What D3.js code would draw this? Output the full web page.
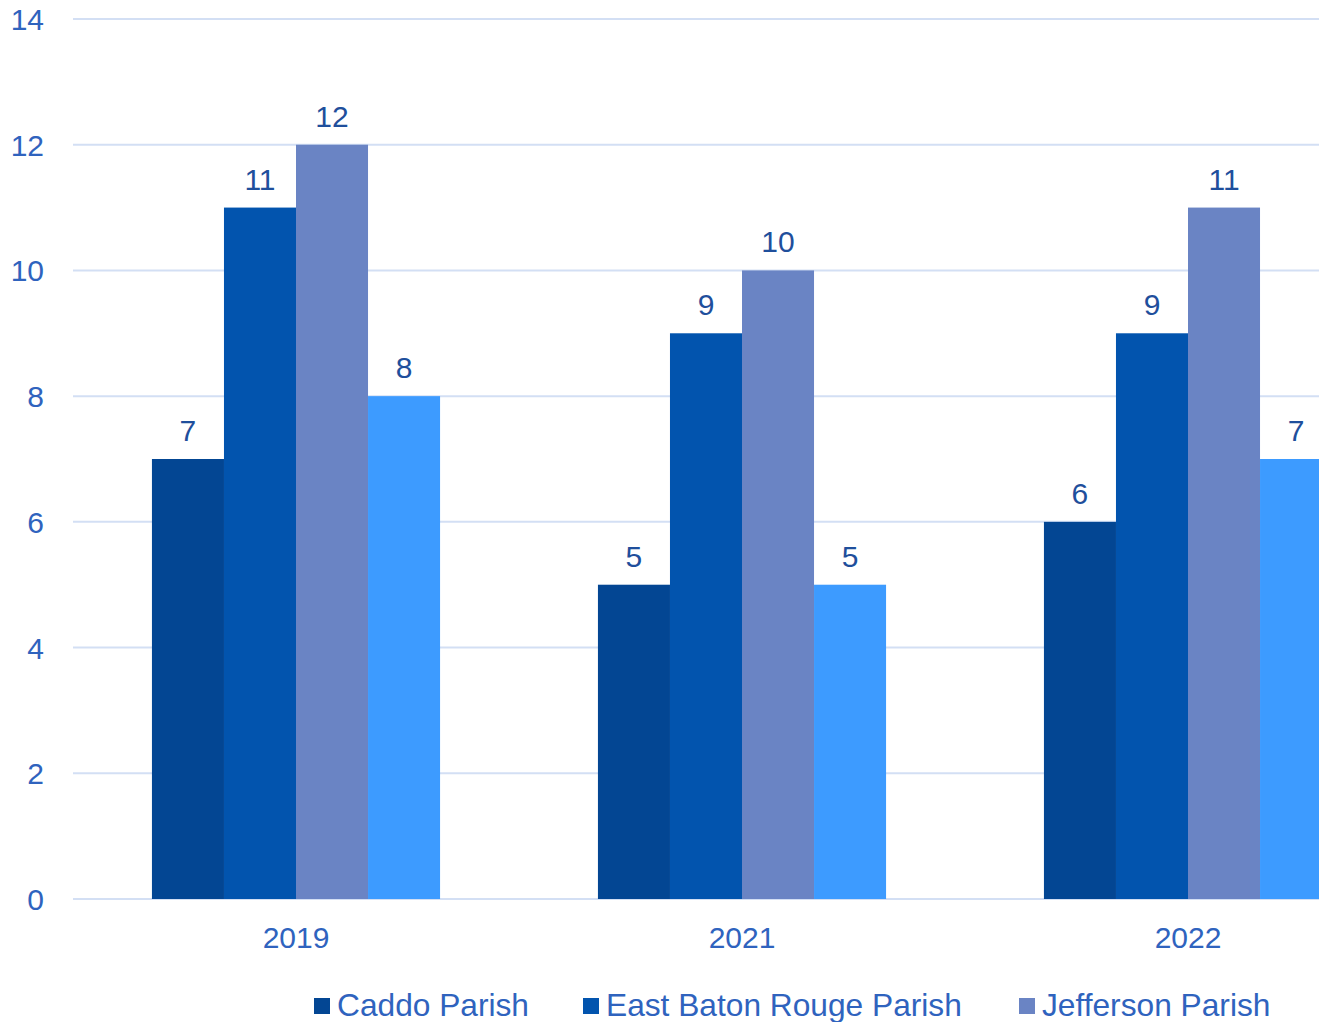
<!DOCTYPE html>
<html><head><meta charset="utf-8">
<script src="https://cdn.jsdelivr.net/npm/d3@7"></script>
<style>html,body{margin:0;padding:0;background:#fff;overflow:hidden}</style>
</head><body>
<svg id="c" width="1319" height="1022"></svg>
<script>
const years = ["2019", "2021", "2022"];
const seriesNames = ["Caddo Parish", "East Baton Rouge Parish", "Jefferson Parish", "Orleans Parish"];
const caddo = [7, 5, 6];
const eastBatonRouge = [11, 9, 9];
const jefferson = [12, 10, 11];
const orleans = [8, 5, 7];
const yTicks = [0, 2, 4, 6, 8, 10, 12, 14];
const colors = ["#034693", "#0254AE", "#6A84C4", "#3D9BFF"];

(function() {
const seriesValues = [caddo, eastBatonRouge, jefferson, orleans];
const svg = d3.select("#c");
const font = "'Liberation Sans', Arial, sans-serif";
const plotLeft = 73, plotRight = 1411, plotTop = 19, plotBottom = 899;

const x = d3.scaleBand().domain(years).range([plotLeft, plotRight]).paddingInner(0.354).paddingOuter(0.177);
const xs = d3.scaleBand().domain(seriesNames).range([0, x.bandwidth()]);
const y = d3.scaleLinear().domain([0, 14]).range([plotBottom, plotTop]);

// gridlines
svg.append("g").selectAll("line").data(yTicks).join("line")
  .attr("x1", plotLeft).attr("x2", 1319)
  .attr("y1", d => y(d)).attr("y2", d => y(d))
  .attr("stroke", "#D3DFF4").attr("stroke-width", 2);

// y tick labels
svg.append("g").selectAll("text").data(yTicks).join("text")
  .attr("x", 44).attr("y", d => y(d) + 11)
  .attr("text-anchor", "end")
  .attr("font-family", font).attr("font-size", 30).attr("fill", "#2F63BE")
  .text(d => d);

// bars
const groups = svg.append("g").selectAll("g").data(years).join("g")
  .attr("transform", d => `translate(${x(d)},0)`);
groups.each(function(yr, i) {
  const g = d3.select(this);
  const data = seriesNames.map((s, k) => ({s, k, v: seriesValues[k][i]}));
  g.selectAll("rect").data(data).join("rect")
    .attr("x", d => xs(d.s)).attr("width", xs.bandwidth())
    .attr("y", d => y(d.v)).attr("height", d => y(0) - y(d.v))
    .attr("fill", d => colors[d.k]);
  g.selectAll("text").data(data).join("text")
    .attr("x", d => xs(d.s) + xs.bandwidth() / 2)
    .attr("y", d => y(d.v) - 18)
    .attr("text-anchor", "middle")
    .attr("font-family", font).attr("font-size", 30).attr("fill", "#1F4F9C")
    .text(d => d.v);
});

// x labels
svg.append("g").selectAll("text").data(years).join("text")
  .attr("x", d => x(d) + x.bandwidth() / 2).attr("y", 948)
  .attr("text-anchor", "middle")
  .attr("font-family", font).attr("font-size", 30).attr("fill", "#2F63BE")
  .text(d => d);

// legend (the fourth entry falls outside the visible frame, as in the reference)
const legendX = [314, 583, 1019];
const legendItems = seriesNames.slice(0, legendX.length);
const lg = svg.append("g").selectAll("g").data(legendItems).join("g")
  .attr("transform", (d, i) => `translate(${legendX[i]},0)`);
lg.append("rect").attr("x", 0).attr("y", 998).attr("width", 16).attr("height", 16)
  .attr("fill", (d, i) => colors[i]);
lg.append("text").attr("x", 23).attr("y", 1016)
  .attr("font-family", font).attr("font-size", 31.7).attr("fill", "#2F63BE")
  .text(d => d);
})();
</script>
</body></html>
